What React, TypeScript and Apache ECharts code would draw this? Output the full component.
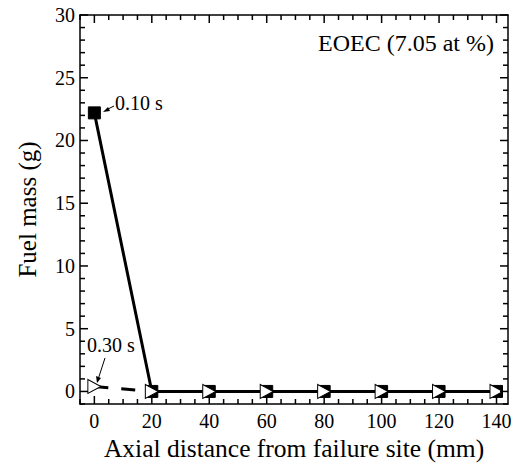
import React, { useEffect, useRef } from "react";
import * as echarts from "echarts";

const distances = [0, 20, 40, 60, 80, 100, 120, 140];
const mass010 = [22.2, 0, 0, 0, 0, 0, 0, 0];
const mass030 = [0.4, 0, 0, 0, 0, 0, 0, 0];
const xMajorTicks = [0, 20, 40, 60, 80, 100, 120, 140];
const yMajorTicks = [0, 5, 10, 15, 20, 25, 30];
const xMinorStep = 5;
const yMinorStep = 1;
const seriesNames = ["0.10 s", "0.30 s"];
const annotation = "EOEC (7.05 at %)";
const xTitle = "Axial distance from failure site (mm)";
const yTitle = "Fuel mass (g)";

const X_MIN = -5, X_MAX = 144, Y_MIN = -1, Y_MAX = 30;
const FONT = "Liberation Serif";
const TRI = "path://M0,0 L12,6.5 L0,13 Z";

export default function App() {
  const ref = useRef<HTMLDivElement>(null);
  useEffect(() => {
    if (!ref.current) return;
    document.body.style.margin = "0";
    const chart = echarts.init(ref.current, null, { renderer: "svg" });
    const line = () => ({ show: true, onZero: false, lineStyle: { color: "#000", width: 1.5 } });
    chart.setOption({
      animation: false,
      grid: { left: 80, right: 6, top: 15, bottom: 59, outerBoundsMode: "none" },
      xAxis: [
        {
          type: "value", position: "bottom", min: X_MIN, max: X_MAX,
          axisLine: line(), splitLine: { show: false }, axisTick: { show: false },
          axisLabel: { customValues: xMajorTicks, color: "#000", fontFamily: FONT, fontSize: 20, margin: 7 },
          name: xTitle, nameLocation: "middle", nameGap: 31,
          nameTextStyle: { color: "#000", fontFamily: FONT, fontSize: 25.5, lineHeight: 26 },
        },
        { type: "value", position: "top", min: X_MIN, max: X_MAX, axisLine: line(), splitLine: { show: false }, axisTick: { show: false }, axisLabel: { show: false } },
      ],
      yAxis: [
        {
          type: "value", position: "left", min: Y_MIN, max: Y_MAX,
          axisLine: line(), splitLine: { show: false }, axisTick: { show: false },
          axisLabel: { customValues: yMajorTicks, color: "#000", fontFamily: FONT, fontSize: 20, margin: 5 },
          name: yTitle, nameLocation: "middle", nameGap: 40,
          nameTextStyle: { color: "#000", fontFamily: FONT, fontSize: 25 },
        },
        { type: "value", position: "right", min: Y_MIN, max: Y_MAX, axisLine: line(), splitLine: { show: false }, axisTick: { show: false }, axisLabel: { show: false } },
      ],
      series: [
        {
          name: seriesNames[0], type: "line", xAxisIndex: 0, yAxisIndex: 0,
          data: distances.map((d, i) => [d, mass010[i]]),
          symbol: "rect", symbolSize: 12, showAllSymbol: true,
          itemStyle: { color: "#000", borderColor: "#000" }, lineStyle: { color: "#000", width: 3 }, z: 2,
        },
        {
          name: seriesNames[1], type: "line", xAxisIndex: 0, yAxisIndex: 0,
          data: distances.map((d, i) => [d, mass030[i]]),
          symbol: TRI, symbolSize: [13, 14], showAllSymbol: true,
          itemStyle: { color: "#fff", borderColor: "#000", borderWidth: 1 },
          lineStyle: { color: "#000", width: 3, type: [14, 13] }, z: 3,
        },
      ],
    });

    // Ticks on all four sides, placed through the chart's own scales.
    const px = (x: number, y: number) => chart.convertToPixel({ seriesIndex: 0 }, [x, y]) as number[];
    const st = { stroke: "#000", lineWidth: 1.5 };
    const tickEls: any[] = [];
    const ok = (p: any) => p && isFinite(p[0]) && isFinite(p[1]);
    for (let v = X_MIN; v <= X_MAX; v += xMinorStep) {
      const len = xMajorTicks.includes(v) ? 8 : 5;
      const a = px(v, Y_MIN), b = px(v, Y_MAX);
      if (!ok(a) || !ok(b)) continue;
      tickEls.push({ type: "line", z: 50, shape: { x1: a[0], y1: a[1], x2: a[0], y2: a[1] - len }, style: st });
      tickEls.push({ type: "line", z: 50, shape: { x1: b[0], y1: b[1], x2: b[0], y2: b[1] + len }, style: st });
    }
    for (let v = Y_MIN; v <= Y_MAX; v += yMinorStep) {
      const len = yMajorTicks.includes(v) ? 8 : 5;
      const a = px(X_MIN, v), b = px(X_MAX, v);
      if (!ok(a) || !ok(b)) continue;
      tickEls.push({ type: "line", z: 50, shape: { x1: a[0], y1: a[1], x2: a[0] + len, y2: a[1] }, style: st });
      tickEls.push({ type: "line", z: 50, shape: { x1: b[0], y1: b[1], x2: b[0] - len, y2: b[1] }, style: st });
    }

    chart.setOption({
      graphic: [
        { type: "text", right: 20, top: 31, style: { text: annotation, fontFamily: FONT, fontSize: 24, fill: "#000" } },
        { type: "text", x: 115, y: 103, style: { text: seriesNames[0], fontFamily: FONT, fontSize: 20, fill: "#000", verticalAlign: "middle" } },
        { type: "line", shape: { x1: 114, y1: 106, x2: 106, y2: 110 }, style: { stroke: "#000", lineWidth: 1 } },
        { type: "polygon", shape: { points: [[103, 112], [108, 107], [110, 111]] }, style: { fill: "#000" } },
        { type: "text", x: 87, y: 345, style: { text: seriesNames[1], fontFamily: FONT, fontSize: 20, fill: "#000", verticalAlign: "middle" } },
        { type: "line", shape: { x1: 105, y1: 358, x2: 98.5, y2: 378 }, style: { stroke: "#000", lineWidth: 1 } },
        { type: "polygon", shape: { points: [[97, 383], [96, 376], [101, 378]] }, style: { fill: "#000" } },
        ...tickEls,
      ],
    });
    return () => chart.dispose();
  }, []);
  return <div ref={ref} style={{ width: 514, height: 463 }} />;
}
